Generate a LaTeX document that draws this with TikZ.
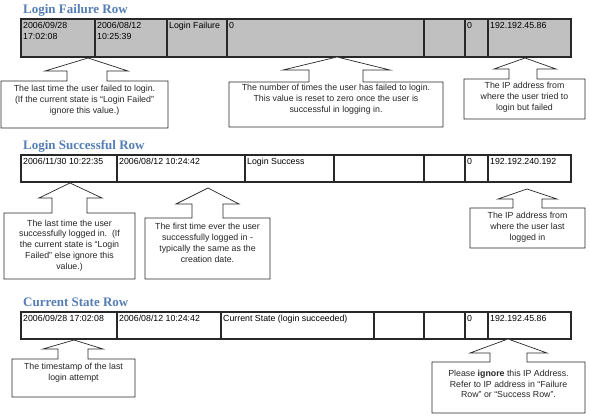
\documentclass[tikz,border=0pt]{standalone}
\usepackage{fontspec}
\setmainfont{Liberation Sans}
\newfontfamily\titlefont{Liberation Serif}
\usetikzlibrary{calc}
\definecolor{titleblue}{RGB}{83,125,180}
\definecolor{cellgray}{RGB}{192,192,192}
\definecolor{lineclr}{RGB}{40,40,40}
\newcommand{\tcell}[7]{%
  \node[cellbox, fill=#6, anchor=north west, minimum width={(#3-#2)*1pt}, minimum height={(#5-#4)*1pt}] (#1) at (#2,#4) {};
  \node[celltext, anchor=base west] (#1t) at ($(#1.north west)+(2pt,-10pt)$) {#7};}
\begin{document}
\begin{tikzpicture}[x=1pt,y=-1pt,
  cellbox/.style={draw=lineclr, line width=1.3pt, inner sep=0pt, outer sep=0pt},
  celltext/.style={font=\fontsize{8.8}{11}\selectfont, inner sep=0pt},
  rowtitle/.style={font=\titlefont\bfseries\fontsize{13}{15}\selectfont, text=titleblue, inner sep=0pt, anchor=base west},
  calloutshape/.style={draw=lineclr, line width=0.7pt, fill=white, line join=miter},
  callouttext/.style={font=\fontsize{8.8}{10.8}\selectfont, align=center, inner sep=0pt, text=black!85}]
\useasboundingbox (0,0) rectangle (590,419);

% ---------- Login Failure Row ----------
\node[rowtitle] (t1) at (23,14) {Login Failure Row};
\tcell{a1}{21}{95}{19}{57}{cellgray}{2006/09/28}
\tcell{a2}{95}{167}{19}{57}{cellgray}{2006/08/12}
\tcell{a3}{167}{227}{19}{57}{cellgray}{Login Failure}
\tcell{a4}{227}{424}{19}{57}{cellgray}{0}
\tcell{a5}{424}{465}{19}{57}{cellgray}{}
\tcell{a6}{465}{488}{19}{57}{cellgray}{0}
\tcell{a7}{488}{571}{19}{57}{cellgray}{192.192.45.86}
\node[celltext, anchor=base west] (a1u) at ($(a1t.base west)+(0pt,-11pt)$) {17:02:08};
\node[celltext, anchor=base west] (a2u) at ($(a2t.base west)+(0pt,-11pt)$) {10:25:39};

\draw[calloutshape] (1,128)--(1,81)--(67,81)--(67,71)--(45,71)--(88,58)--(128,71)--(107,71)--(107,81)--(168,81)--(168,128)--cycle;
\node[callouttext] (c11) at (84.5,100) {The last time the user failed to login.\\(If the current state is “Login Failed”\\ignore this value.)};
\draw[calloutshape] (229,127)--(229,82)--(309,82)--(309,70)--(283,70)--(337,57)--(390,70)--(363,70)--(363,82)--(443,82)--(443,127)--cycle;
\node[callouttext] (c12) at (336,99.5) {The number of times the user has failed to login.\\This value is reset to zero once the user is\\successful in logging in.};
\draw[calloutshape] (464,119)--(464,79)--(509,79)--(509,69)--(494,69)--(525,58)--(556,69)--(537,69)--(537,79)--(585,79)--(585,119)--cycle;
\node[callouttext] (c13) at (524.5,97.5) {The IP address from\\where the user tried to\\login but failed};

% ---------- Login Successful Row ----------
\node[rowtitle] (t2) at (23,150) {Login Successful Row};
\tcell{b1}{21}{117}{155}{182}{white}{2006/11/30 10:22:35}
\tcell{b2}{117}{245}{155}{182}{white}{2006/08/12 10:24:42}
\tcell{b3}{245}{334}{155}{182}{white}{Login Success}
\tcell{b4}{334}{424}{155}{182}{white}{}
\tcell{b5}{424}{465}{155}{182}{white}{}
\tcell{b6}{465}{488}{155}{182}{white}{0}
\tcell{b7}{488}{571}{155}{182}{white}{192.192.240.192}

\draw[calloutshape] (4,279)--(4,213)--(52,213)--(52,198)--(39,198)--(70,183)--(102,198)--(87,198)--(87,213)--(135,213)--(135,279)--cycle;
\node[callouttext] (c21) at (69.5,245.5) {The last time the user\\successfully logged in.\ \ (If\\the current state is “Login\\Failed” else ignore this\\value.)};
\draw[calloutshape] (145,279)--(145,218)--(192,218)--(192,204)--(176,204)--(208,188)--(239,204)--(223,204)--(223,218)--(270,218)--(270,279)--cycle;
\node[callouttext] (c22) at (207.5,243) {The first time ever the user\\successfully logged in -\\typically the same as the\\creation date.};
\draw[calloutshape] (470,248)--(470,208)--(513,208)--(513,199)--(498,199)--(527,189)--(557,199)--(542,199)--(542,208)--(585,208)--(585,248)--cycle;
\node[callouttext] (c23) at (527.5,227.5) {The IP address from\\where the user last\\logged in};

% ---------- Current State Row ----------
\node[rowtitle] (t3) at (23,307) {Current State Row};
\tcell{d1}{21}{117}{312}{339}{white}{2006/09/28 17:02:08}
\tcell{d2}{117}{221}{312}{339}{white}{2006/08/12 10:24:42}
\tcell{d3}{221}{374}{312}{339}{white}{Current State (login succeeded)}
\tcell{d4}{374}{424}{312}{339}{white}{}
\tcell{d5}{424}{465}{312}{339}{white}{}
\tcell{d6}{465}{488}{312}{339}{white}{0}
\tcell{d7}{488}{571}{312}{339}{white}{192.192.45.86}

\draw[calloutshape] (12,397)--(12,359)--(58,359)--(58,349)--(43,349)--(74,340)--(103,349)--(88,349)--(88,359)--(135,359)--(135,397)--cycle;
\node[callouttext] (c31) at (73.5,372.5) {The timestamp of the last\\login attempt};
\draw[calloutshape] (432,413)--(432,362)--(490,362)--(490,353)--(470,353)--(508,339)--(547,353)--(527,353)--(527,362)--(585,362)--(585,413)--cycle;
\node[callouttext] (c32) at (508.5,384) {Please \textbf{ignore} this IP Address.\\Refer to IP address in “Failure\\Row” or “Success Row”.};
\end{tikzpicture}
\end{document}
